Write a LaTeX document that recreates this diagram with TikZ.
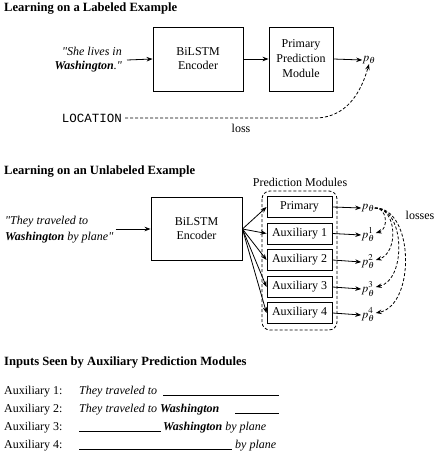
\documentclass[tikz,border=0pt]{standalone}
\usepackage{mathptmx}
\usepackage{fontspec}
\setmainfont{Liberation Serif}
\setmonofont{Liberation Mono}
\usetikzlibrary{arrows.meta,calc}
\begin{document}
\begin{tikzpicture}[x=1pt,y=-1pt,
  every node/.style={font=\fontsize{12}{14}\selectfont, inner sep=0pt},
  box/.style={draw, line width=0.9pt, align=center},
  title/.style={font=\fontsize{12.6}{14}\selectfont\bfseries, anchor=west},
  arr/.style={-{Stealth[length=6pt,width=4.5pt]}, line width=0.8pt},
  dsh/.style={dash pattern=on 3pt off 2pt, line width=0.8pt},
  darr/.style={dsh, -{Stealth[length=6pt,width=4.5pt]}},
  under/.style={line width=0.6pt}
]
\useasboundingbox (0,0) rectangle (436,461);

% ---------- Section 1 ----------
\node[title] (t1) at (4,9) {Learning on a Labeled Example};
\node[align=right, anchor=east, font=\fontsize{12}{14}\selectfont\itshape] (in1) at (122,60) {\textquotedbl She lives in\\\textbf{Washington}.\textquotedbl};
\node[box, minimum width=90, minimum height=64] (enc1) at (198,59) {BiLSTM\\Encoder};
\node[box, minimum width=64, minimum height=64, font=\fontsize{12}{15}\selectfont] (prim1) at (301,59) {Primary\\Prediction\\Module};
\node (pt) at (369,60) {$p_\theta$};
\node[font=\fontsize{12.5}{14}\selectfont\ttfamily, anchor=east] (loc) at (122,118) {LOCATION};
\node (loss) at (241,128) {loss};
\draw[arr] (in1.east -| 127,59) -- (enc1.west);
\draw[arr] (enc1.east) -- (prim1.west);
\draw[arr] (prim1.east) -- (pt.west);
\draw[darr] (loc.east) ++(3,0) -- (318,118) .. controls (345,116) and (360,96) .. (pt.south);

% ---------- Section 2 ----------
\node[title] (t2) at (4,172) {Learning on an Unlabeled Example};
\node (pmlab) at (300,182) {Prediction Modules};
\node[align=left, anchor=west, font=\fontsize{12}{16}\selectfont\itshape] (in2) at (5,230) {\textquotedbl They traveled to\\\textbf{Washington} by plane\textquotedbl};
\node[box, minimum width=91, minimum height=63] (enc2) at (196.5,229) {BiLSTM\\Encoder};
\draw[dsh, rounded corners=8pt] (262,191) rectangle (337,330);

\foreach \n/\lab/\y in {m0/Primary/207, m1/Auxiliary 1/233.5, m2/Auxiliary 2/260, m3/Auxiliary 3/287, m4/Auxiliary 4/313}{
  \node[box, minimum width=65, minimum height=21] (\n) at (299.5,\y) {\lab};
}
\node (q0) at (368,208) {$p_\theta$};
\node (q1) at (368,235) {$p_\theta^{1}$};
\node (q2) at (368,262) {$p_\theta^{2}$};
\node (q3) at (368,289) {$p_\theta^{3}$};
\node (q4) at (368,315) {$p_\theta^{4}$};
\node (losses) at (420,215) {losses};

\draw[arr] (in2.east |- 0,229) ++(2,0) -- (enc2.west);
\foreach \i in {0,...,4}{
  \draw[arr] (enc2.east) -- (m\i.west);
  \draw[arr] (m\i.east) -- (q\i.west);
}
\draw[darr] (q0.east) .. controls (387,207) and (389,229) .. ($(q1.east)+(1,-2)$);
\draw[darr] (q0.east) .. controls (397,207) and (399,253) .. ($(q2.east)+(1,-2)$);
\draw[darr] (q0.east) .. controls (405,207) and (407,280) .. ($(q3.east)+(1,-2)$);
\draw[darr] (q0.east) .. controls (414,207) and (416,305) .. ($(q4.east)+(1,-2)$);

% ---------- Section 3 ----------
\node[title] (t3) at (4,362) {Inputs Seen by Auxiliary Prediction Modules};
\foreach \n/\y in {1/394,2/412,3/430,4/448}{
  \node[anchor=base west] (a\n) at (4,\y) {Auxiliary \n:};
}
\node[anchor=base west, font=\fontsize{12}{14}\selectfont\itshape] (s1) at (79,394) {They traveled to};
\draw[under] (163,395) -- (279,395);
\node[anchor=base west, font=\fontsize{12}{14}\selectfont\itshape] (s2) at (79,412) {They traveled to \textbf{Washington}};
\draw[under] (235,413) -- (279,413);
\draw[under] (79,431) -- (161,431);
\node[anchor=base west, font=\fontsize{12}{14}\selectfont\itshape] (s3) at (163,430) {\textbf{Washington} by plane};
\draw[under] (79,449) -- (232,449);
\node[anchor=base west, font=\fontsize{12}{14}\selectfont\itshape] (s4) at (235,448) {by plane};
\end{tikzpicture}
\end{document}
